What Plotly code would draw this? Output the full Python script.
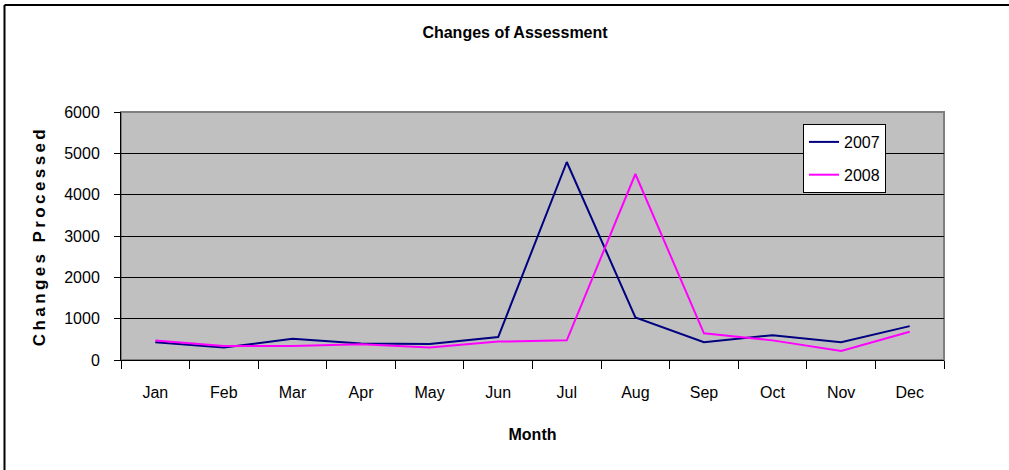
import plotly.graph_objects as go

months = ["Jan", "Feb", "Mar", "Apr", "May", "Jun",
          "Jul", "Aug", "Sep", "Oct", "Nov", "Dec"]
changes_2007 = [430, 300, 515, 400, 385, 555, 4790, 1030, 430, 600, 430, 820]
changes_2008 = [470, 340, 340, 380, 300, 445, 475, 4500, 645, 475, 220, 685]
y_ticks = [0, 1000, 2000, 3000, 4000, 5000, 6000]

FONT = "Liberation Sans, Arial, sans-serif"


def px_x(px):
    # pixel column -> paper x
    return (px - 121) / 823


def px_y(px):
    # pixel row -> paper y
    return (360 - px) / 248


fig = go.Figure()
fig.add_trace(go.Scatter(x=months, y=changes_2007, name="2007", mode="lines",
                         line=dict(color="#000080", width=2), legendgroup="a"))
fig.add_trace(go.Scatter(x=months, y=changes_2008, name="2008", mode="lines",
                         line=dict(color="#FF00FF", width=2), legendgroup="b"))

fig.update_layout(
    width=1009, height=470,
    margin=dict(l=121, r=65, t=112, b=110),
    paper_bgcolor="white",
    plot_bgcolor="#C0C0C0",
    font=dict(family=FONT, size=16, color="black"),
    title=dict(text="<b>Changes of Assessment</b>", x=515 / 1009, xanchor="center",
               y=1 - 32 / 470, yanchor="middle", font=dict(size=16)),
    showlegend=True,
    legend=dict(x=px_x(803), y=px_y(124), xanchor="left", yanchor="top",
                bgcolor="white", bordercolor="black", borderwidth=1,
                font=dict(size=16), tracegroupgap=9, traceorder="grouped"),
    xaxis=dict(
        type="category", range=[-0.5, 11.5], tickson="boundaries",
        ticks="outside", ticklen=8, tickcolor="black",
        showline=True, linecolor="black", linewidth=1, mirror=False,
        showgrid=False, zeroline=False,
        ticklabelstandoff=18,
        title=dict(text="<b>Month</b>", font=dict(size=16), standoff=28),
    ),
    yaxis=dict(
        range=[0, 6000], tickvals=y_ticks,
        ticks="outside", ticklen=6, tickcolor="black",
        showline=True, linecolor="black", linewidth=1,
        showgrid=True, gridcolor="black", gridwidth=1, zeroline=False,
        ticklabelstandoff=11,
        title=dict(text="<b>Changes Processed</b>", font=dict(size=17), standoff=14),
    ),
    shapes=[
        # plot area border (gray)
        dict(type="rect", xref="paper", yref="paper", x0=0, x1=1, y0=0, y1=1,
             line=dict(color="#808080", width=2), layer="below"),
        # outer chart frame: only left and top edges are in view
        dict(type="line", xref="paper", yref="paper",
             x0=px_x(4.5), x1=px_x(4.5), y0=px_y(5), y1=px_y(480),
             line=dict(color="black", width=2)),
        dict(type="line", xref="paper", yref="paper",
             x0=px_x(4.5), x1=px_x(1030), y0=px_y(5), y1=px_y(5),
             line=dict(color="black", width=2)),
    ],
)

# drop the page margin and spread out the y title letters like the original
post = """
document.body.style.margin = '0';
document.body.style.overflow = 'hidden';
var t = document.querySelector('.ytitle');
if (t) { t.setAttribute('letter-spacing', '3.4px'); }
"""
fig.write_html("out.html", post_script=post, config={"displayModeBar": False})
